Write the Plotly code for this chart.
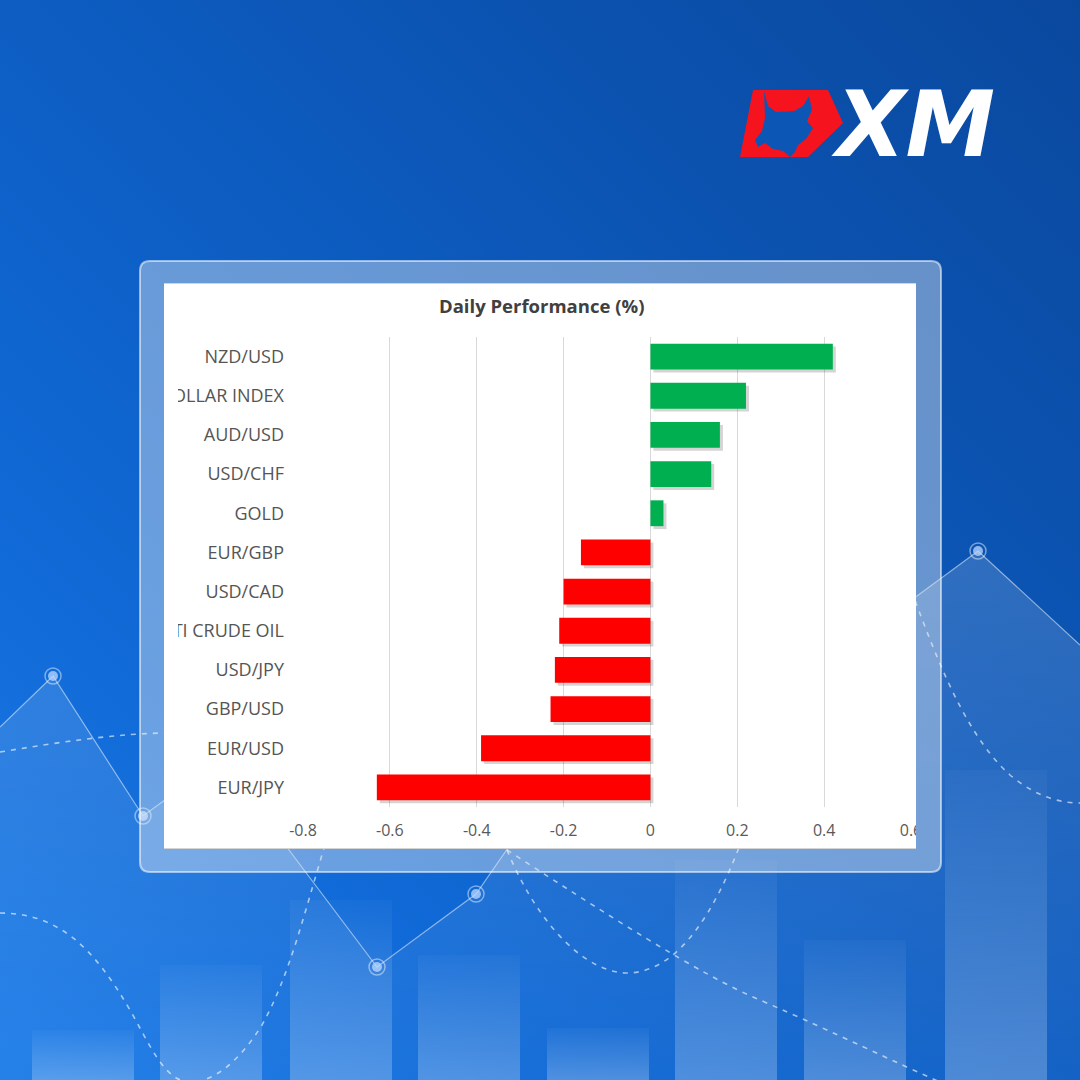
import base64
import plotly.graph_objects as go

# ---------------- data ----------------
categories = ["NZD/USD", "DOLLAR INDEX", "AUD/USD", "USD/CHF", "GOLD", "EUR/GBP",
              "USD/CAD", "WTI CRUDE OIL", "USD/JPY", "GBP/USD", "EUR/USD", "EUR/JPY"]
values = [0.42, 0.22, 0.16, 0.14, 0.03, -0.16, -0.20, -0.21, -0.22, -0.23, -0.39, -0.63]
x_tickvals = [-0.8, -0.6, -0.4, -0.2, 0, 0.2, 0.4, 0.6]
x_ticktext = ["-0.8", "-0.6", "-0.4", "-0.2", "0", "0.2", "0.4", "0.6"]
title_text = "Daily Performance (%)"
logo_text = "XM"

# ---------------- helpers ----------------
W = H = 1080


def px(x):
    return x / W


def py(y):
    return 1 - y / H


# background gradient stops (t along bottom-left -> top-right)
bg_stops = [(0.0, (30, 125, 232)), (0.25, (16, 106, 215)), (0.5, (13, 93, 195)),
            (0.75, (11, 82, 175)), (1.0, (10, 72, 158))]
FRAME_RGB, FRAME_A = (232, 236, 240), 0.42


def bg_at(x, y, area_alpha=0.0):
    t = (x + 1080 - y) / 2160
    for (t0, c0), (t1, c1) in zip(bg_stops[:-1], bg_stops[1:]):
        if t0 <= t <= t1:
            f = (t - t0) / (t1 - t0)
            c = [a + (b - a) * f for a, b in zip(c0, c1)]
            break
    return [ci * (1 - area_alpha) + 255 * area_alpha for ci in c]


def frame_at(x, y, area_alpha=0.0):
    c = bg_at(x, y, area_alpha)
    c = [ci * (1 - FRAME_A) + fi * FRAME_A for ci, fi in zip(c, FRAME_RGB)]
    return "rgb(%d,%d,%d)" % tuple(round(v) for v in c)


def hexc(c):
    return "#%02x%02x%02x" % c


# ---------------- background artwork (no text) ----------------
bars_bg = [(32, 1030), (160, 965), (290, 900), (418, 955), (547, 1028),
           (675, 860), (804, 940), (945, 770)]
bars_svg = "".join(
    f'<rect x="{x}" y="{t}" width="102" height="{1080 - t}" fill="url(#bar)"/>' for x, t in bars_bg)
line_pts = [(0, 727), (53, 676), (143, 816), (221, 759), (289, 850), (377, 967),
            (476, 894), (510, 845), (620, 700), (760, 690), (917, 596), (978, 551), (1080, 645)]
line_d = "M" + " L".join(f"{x},{y}" for x, y in line_pts)
area_d = line_d + " L1080,1080 L0,1080 Z"
dots = [(53, 676), (143, 816), (377, 967), (476, 894), (978, 551)]
dots_svg = "".join(
    f'<circle cx="{x}" cy="{y}" r="8" fill="none" stroke="#ffffff" stroke-opacity="0.45" stroke-width="1.5"/>'
    f'<circle cx="{x}" cy="{y}" r="5" fill="#bcd8ff" fill-opacity="0.75"/>' for x, y in dots)
dashed = [
    "M0,752 C60,742 120,733 170,733 C230,733 280,735 330,740",
    "M0,913 C60,913 95,950 130,1010 C150,1045 165,1082 190,1082 C215,1082 240,1060 262,1025 C290,975 305,910 325,845",
    "M507,850 C540,930 590,975 630,973 C680,970 715,910 740,845",
    "M507,850 C600,910 700,975 760,1000 C840,1035 890,1060 940,1082",
    "M900,560 C930,640 960,730 1010,775 C1040,800 1065,803 1080,803",
]
dashed_svg = "".join(
    f'<path d="{d}" fill="none" stroke="#ffffff" stroke-opacity="0.6" stroke-width="1.6" stroke-dasharray="5,6"/>'
    for d in dashed)
bull = ("M764,91 L768,106 L776,112 L794,111 L803,106 L809,96 L812,110 L807,121 L813,128 "
        "L806,139 L798,145 L795,152 L790,157 L783,151 L773,149 L765,143 L758,147 L755,140 "
        "L762,131 L765,118 Z")
stops_svg = "".join(f'<stop offset="{t}" stop-color="{hexc(c)}"/>' for t, c in bg_stops)
svg = f'''<svg xmlns="http://www.w3.org/2000/svg" width="1080" height="1080" viewBox="0 0 1080 1080">
<defs>
<linearGradient id="bg" gradientUnits="userSpaceOnUse" x1="0" y1="1080" x2="1080" y2="0">{stops_svg}</linearGradient>
<linearGradient id="bar" x1="0" y1="1" x2="0" y2="0">
<stop offset="0" stop-color="#ffffff" stop-opacity="0.24"/>
<stop offset="1" stop-color="#ffffff" stop-opacity="0.03"/>
</linearGradient>
<linearGradient id="area" gradientUnits="userSpaceOnUse" x1="0" y1="550" x2="0" y2="1080">
<stop offset="0" stop-color="#ffffff" stop-opacity="0.15"/>
<stop offset="1" stop-color="#ffffff" stop-opacity="0.03"/>
</linearGradient>
</defs>
<rect width="1080" height="1080" fill="url(#bg)"/>
{bars_svg}
<path d="{area_d}" fill="url(#area)"/>
<path d="{line_d}" fill="none" stroke="#ffffff" stroke-opacity="0.5" stroke-width="1.2"/>
{dashed_svg}
{dots_svg}
<polygon points="753,90 828,90 843,123 808,157 740,157" fill="#f5141e"/>
<path d="{bull}" fill="#0c57b6"/>
</svg>'''
bg_uri = "data:image/svg+xml;base64," + base64.b64encode(svg.encode("utf-8")).decode("ascii")

# ---------------- chart ----------------
GREEN, RED = "#00B050", "#FF0000"
bar_colors = [GREEN if v >= 0 else RED for v in values]
BAR_W = 0.66
shadow_dx = 3 / 435.0  # ~3px to the right

fig = go.Figure()
fig.add_trace(go.Bar(
    y=categories, x=values, base=shadow_dx, orientation="h",
    width=BAR_W, offset=-BAR_W / 2 + 0.075,
    marker=dict(color="rgba(0,0,0,0.17)", line=dict(width=0)),
    hoverinfo="skip", showlegend=False, xaxis="x", yaxis="y"))
fig.add_trace(go.Bar(
    y=categories, x=values, orientation="h", width=BAR_W,
    marker=dict(color=bar_colors, line=dict(width=0)),
    showlegend=False, xaxis="x2", yaxis="y"))

font_fam = "Open Sans, Noto Sans, DejaVu Sans, sans-serif"
x_dom = [px(303), px(911)]

x0, x1, y0, y1, r = 140, 941, 261, 872, 10


def P(x, y):
    return f"{px(x):.5f},{py(y):.5f}"


frame_path = (f"M {P(x0 + r, y0)} L {P(x1 - r, y0)} Q {P(x1, y0)} {P(x1, y0 + r)} "
              f"L {P(x1, y1 - r)} Q {P(x1, y1)} {P(x1 - r, y1)} L {P(x0 + r, y1)} "
              f"Q {P(x0, y1)} {P(x0, y1 - r)} L {P(x0, y0 + r)} Q {P(x0, y0)} {P(x0 + r, y0)} Z")

frame_fill = "rgba(%d,%d,%d,%.2f)" % (*FRAME_RGB, FRAME_A)
shapes = [
    dict(type="path", xref="paper", yref="paper", path=frame_path, layer="below",
         fillcolor=frame_fill, line=dict(color="rgba(255,255,255,0.55)", width=2)),
    dict(type="rect", xref="paper", yref="paper", x0=px(164), x1=px(916), y0=py(849), y1=py(283),
         layer="below", fillcolor="#ffffff", line=dict(width=0)),
    dict(type="line", xref="paper", yref="paper", x0=px(164), x1=px(916), y0=py(283.5), y1=py(283.5),
         layer="below", line=dict(color="#d4d4d4", width=1)),
    dict(type="line", xref="paper", yref="paper", x0=px(164), x1=px(916), y0=py(848.5), y1=py(848.5),
         layer="below", line=dict(color="#d4d4d4", width=1)),
    # long category labels hidden where they would run over the frame
    dict(type="rect", xref="paper", yref="paper", x0=px(142), x1=px(164), y0=py(409), y1=py(383),
         layer="above", fillcolor=frame_at(152, 396), line=dict(width=0)),
    dict(type="rect", xref="paper", yref="paper", x0=px(142), x1=px(164), y0=py(644), y1=py(618),
         layer="above", fillcolor=frame_at(152, 631), line=dict(width=0)),
    # chart-image clipping of long category labels (inside white panel)
    dict(type="rect", xref="paper", yref="paper", x0=px(164), x1=px(178), y0=py(808), y1=py(336),
         layer="above", fillcolor="#ffffff", line=dict(width=0)),
    # chart-image clipping of the last x tick label
    dict(type="rect", xref="paper", yref="paper", x0=px(916), x1=px(939), y0=py(846), y1=py(812),
         layer="above", fillcolor=frame_at(928, 829, 0.087), line=dict(width=0)),
]

fig.update_layout(
    width=W, height=H,
    autosize=False,
    margin=dict(l=0, r=0, t=0, b=0, pad=0, autoexpand=False),
    paper_bgcolor="#0d5dc3",
    plot_bgcolor="rgba(0,0,0,0)",
    barmode="overlay",
    showlegend=False,
    font=dict(family=font_fam, color="#595959"),
    xaxis=dict(domain=x_dom, range=[-0.8, 0.6], tickvals=x_tickvals, ticktext=x_ticktext,
               showgrid=False, zeroline=False, showline=False, ticks="", automargin=False,
               tickfont=dict(size=16, color="#595959", family=font_fam),
               ticklabelstandoff=12, anchor="y", fixedrange=True),
    xaxis2=dict(domain=x_dom, range=[-0.8, 0.6], tickvals=x_tickvals[:-1],
                showgrid=True, gridcolor="#d9d9d9", gridwidth=1, zeroline=False, automargin=False,
                showticklabels=False, ticks="", overlaying="x", anchor="y", side="bottom",
                fixedrange=True),
    yaxis=dict(domain=[py(807), py(337)], type="category", categoryorder="array",
               categoryarray=categories, autorange="reversed", showgrid=False,
               zeroline=False, showline=False, ticks="", automargin=False,
               tickfont=dict(size=18, color="#555555", family=font_fam),
               ticklabelstandoff=18, fixedrange=True),
    shapes=shapes,
    images=[dict(source=bg_uri, xref="paper", yref="paper", x=0, y=1, sizex=1, sizey=1,
                 xanchor="left", yanchor="top", sizing="stretch", layer="below")],
    annotations=[
        dict(text=f"<b>{title_text}</b>", xref="paper", yref="paper", x=px(541), y=py(305),
             xanchor="center", yanchor="middle", showarrow=False,
             font=dict(size=18.5, color="#404040", family=font_fam)),
        dict(text=f"<b><i>{logo_text}</i></b>", xref="paper", yref="paper", x=px(913), y=py(124),
             xanchor="center", yanchor="middle", showarrow=False,
             font=dict(size=90, color="#ffffff", family="DejaVu Sans, Liberation Sans, sans-serif")),
    ],
)

fig.write_html(
    "out.html",
    config={"responsive": False, "displayModeBar": False},
    post_script="document.documentElement.style.margin='0';document.documentElement.style.padding='0';"
                "document.documentElement.style.overflow='hidden';"
                "document.body.style.margin='0';document.body.style.padding='0';"
                "document.body.style.overflow='hidden';",
)
